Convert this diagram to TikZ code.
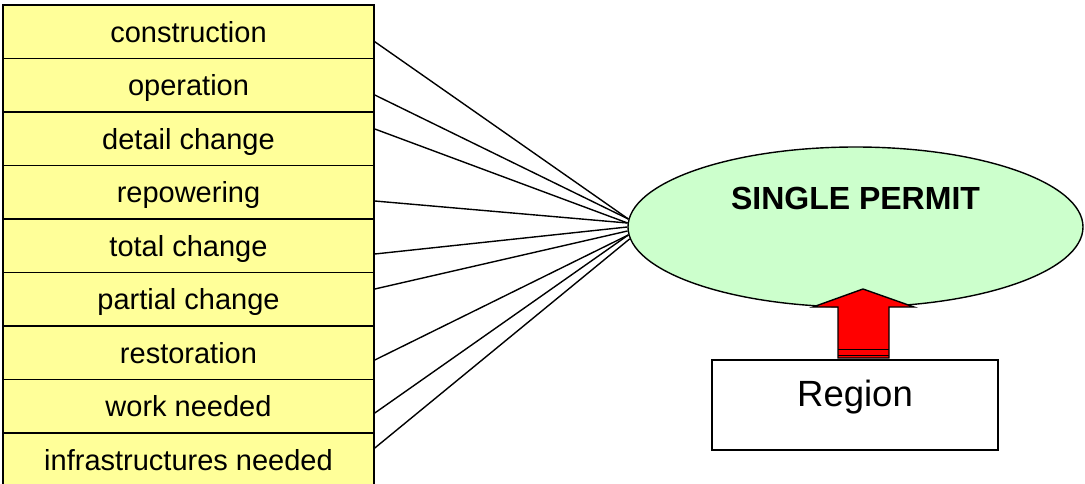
\documentclass[tikz,border=0pt]{standalone}
\usepackage{fontspec}
\setmainfont{Liberation Sans}
\usetikzlibrary{shapes.geometric,calc}
\definecolor{rowyellow}{HTML}{FFFF99}
\definecolor{permitgreen}{HTML}{CCFFCC}
\definecolor{arrowred}{HTML}{FF0000}
\begin{document}
\begin{tikzpicture}[x=1pt,y=-1pt,
  row/.style={draw, line width=1.6pt, fill=rowyellow, minimum width=371pt,
    minimum height=53.5pt, inner sep=0pt, text height=20.8pt, text depth=0pt,
    font=\fontsize{29}{34}\selectfont},
  link/.style={line width=1.4pt},
  permit/.style={draw, ellipse, fill=permitgreen, line width=1.4pt,
    minimum width=455pt, minimum height=160pt, inner sep=0pt},
  regionbox/.style={draw, line width=1.6pt, fill=white, minimum width=286pt,
    minimum height=90pt, inner sep=0pt}]
\useasboundingbox (0,0) rectangle (1085,484);

% list of permit cases
\foreach \txt [count=\i] in {construction, operation, detail change, repowering,
    total change, partial change, restoration, work needed, infrastructures needed}
  \node[row] (r\i) at (188.5, {5+53.5*(\i-0.5)}) {\txt};

% the single permit
\node[permit] (perm) at (855.5,227) {};
\node[font=\bfseries\fontsize{32}{38}\selectfont, anchor=base]
  at ($(perm.center)+(0,-17)$) {SINGLE PERMIT};

% connectors from each case to the permit
\draw[link] ($(r1.east)+(0,10)$)     -- (perm.178);
\draw[link] ($(r2.east)+(0,9.75)$)   -- (perm.178.5);
\draw[link] ($(r3.east)+(0,-9.75)$)  -- (perm.179);
\draw[link] ($(r4.east)+(0,8.75)$)   -- (perm.179.7);
\draw[link] ($(r5.east)+(0,8.25)$)   -- (perm.180.5);
\draw[link] ($(r6.east)+(0,-10.25)$) -- (perm.181.3);
\draw[link] ($(r7.east)+(0,7.25)$)   -- (perm.182);
\draw[link] ($(r8.east)+(0,6.75)$)   -- (perm.182.8);
\draw[link] ($(r9.east)+(0,-11.75)$) -- (perm.183.6);

% region box
\node[regionbox] (region) at (855,405) {};
\node[font=\fontsize{36.5}{44}\selectfont, anchor=base]
  at ($(region.center)+(0,1)$) {Region};

% block arrow from region up to the permit
\draw[fill=arrowred, line width=1.4pt, line join=miter]
  (838,307) -- (813,307) -- (863,289) -- (914,307) -- (889,307)
  -- (889,358) -- (838,358) -- cycle;
\draw[line width=1.3pt] (838,349.5) -- (889,349.5);
\draw[line width=1.3pt] (838,355.5) -- (889,355.5);
\end{tikzpicture}
\end{document}
